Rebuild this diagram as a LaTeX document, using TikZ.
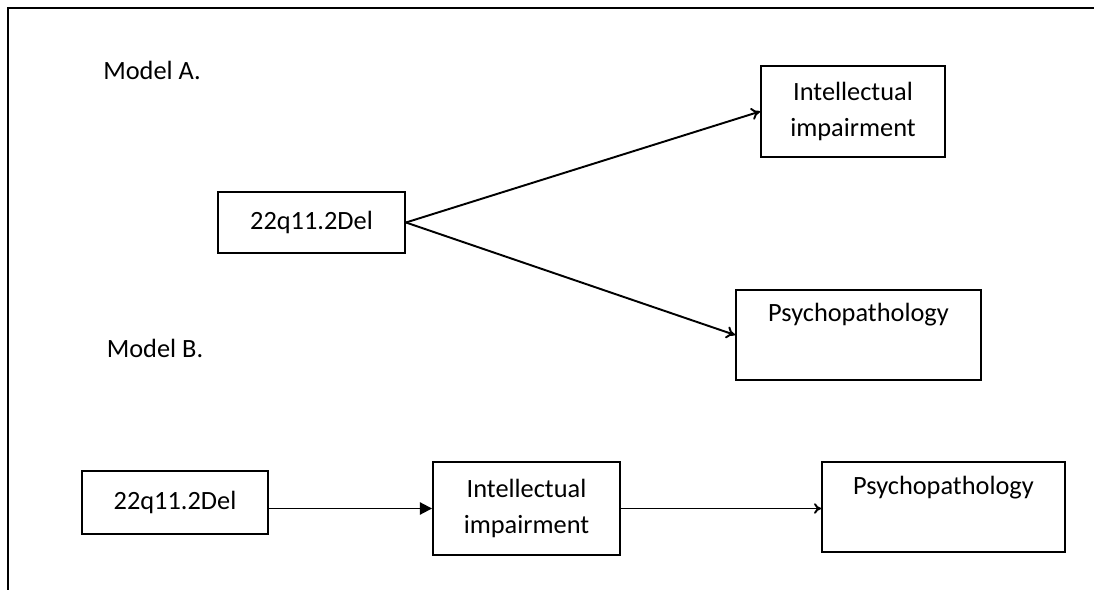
\documentclass[tikz,border=0pt]{standalone}
\usepackage{fontspec}
\setmainfont{Carlito}
\usetikzlibrary{arrows.meta}

\begin{document}
\begin{tikzpicture}[x=0.02cm, y=-0.02cm, line width=1.1pt]
        \tikzstyle{box}=[rectangle, draw=black, inner sep=0pt, align=center, font=\fontsize{15}{20}\selectfont]
        \tikzstyle{title}=[black, font=\fontsize{15}{18}\selectfont]
        \useasboundingbox (0, 0) rectangle (1094, 590);

        % Frame
        \coordinate (frame_bl) at (8, 590);
        \coordinate (frame_tr) at (1094, 8);
        \draw (frame_bl) |- (frame_tr);

        % Model A
        \draw node at (152, 70) [title] (title_a) {Model A.};

        \draw node at (311.5, 222.5) [box, minimum width=3.74cm, minimum height=1.22cm] (src_a) {22q11.2Del};
        \draw node at (853, 111.5) [box, minimum width=3.68cm, minimum height=1.82cm] (ii_a) {Intellectual\\impairment};
        \draw node at (858.5, 335) [box, minimum width=4.9cm, text height=0.64cm, text depth=1.16cm] (pp_a) {Psychopathology};

        % Model B
        \draw node at (155, 348) [title] (title_b) {Model B.};

        \draw node at (175, 502.5) [box, minimum width=3.72cm, minimum height=1.26cm] (src_b) {22q11.2Del};
        \draw node at (526.5, 508.5) [box, minimum width=3.74cm, minimum height=1.86cm] (ii_b) {Intellectual\\impairment};
        \draw node at (943.5, 507) [box, minimum width=4.86cm, text height=0.64cm, text depth=1.16cm] (pp_b) {Psychopathology};

        % Model A arrows
        \draw [-{To[length=5pt, width=7pt]}] (src_a.east) to (ii_a.west);
        \draw [-{To[length=5pt, width=7pt]}] (src_a.east) to (pp_a.west);

        % Model B arrows
        \draw [-{Triangle[length=7pt, width=7pt]}] (ii_b.west -| src_b.east) to (ii_b.west);
        \draw [-{To[length=4pt, width=6pt]}] (ii_b.east) to (ii_b.east -| pp_b.west);

    \end{tikzpicture}
\end{document}
